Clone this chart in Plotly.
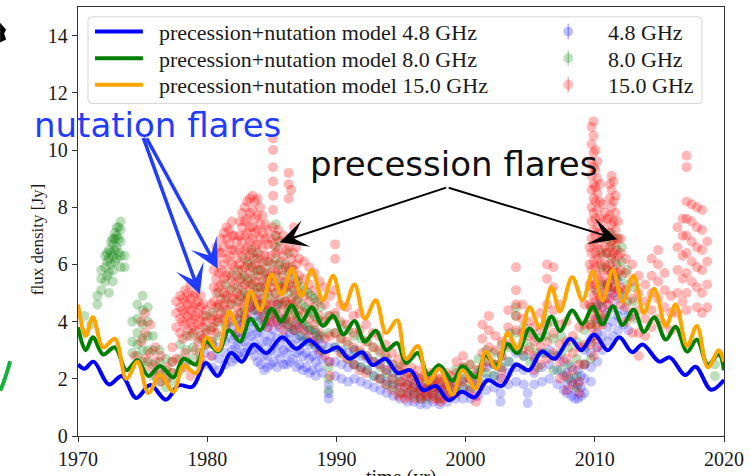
import plotly.graph_objects as go

# ---------------------------------------------------------------------------
# Precession + nutation model curves, given as their turning points (year, Jy)
# ---------------------------------------------------------------------------
model_year_15 = [1970.0, 1970.6, 1971.15, 1971.95, 1972.85, 1973.75, 1974.6, 1975.45,
                 1976.35, 1977.4, 1978.15, 1979.15, 1979.95, 1980.85, 1981.7, 1982.55,
                 1983.35, 1984.1, 1985.0, 1985.75, 1986.55, 1987.3, 1988.1, 1988.95,
                 1989.75, 1990.55, 1991.4, 1992.2, 1993.05, 1993.85, 1994.7, 1995.4,
                 1996.3, 1997.1, 1997.95, 1999.0, 1999.75, 2000.8, 2001.55, 2002.4,
                 2003.25, 2004.0, 2004.95, 2005.75, 2006.65, 2007.3, 2008.25, 2009.05,
                 2009.85, 2010.6, 2011.4, 2012.15, 2013.0, 2013.8, 2014.6, 2015.5,
                 2016.25, 2017.15, 2017.9, 2018.75, 2019.6, 2020.0]
model_flux_15 = [4.6, 3.5, 4.15, 3.1, 3.4, 2.0, 2.6, 1.5,
                 2.15, 1.55, 2.45, 2.2, 3.45, 3.0, 4.35, 3.65,
                 5.05, 4.4, 5.65, 4.95, 5.85, 4.9, 5.8, 4.75,
                 5.6, 4.45, 5.3, 4.1, 4.75, 3.6, 4.05, 2.7,
                 3.15, 1.85, 2.35, 1.45, 2.3, 1.65, 2.95, 2.35,
                 3.6, 3.05, 4.5, 3.8, 5.2, 4.35, 5.55, 4.75,
                 5.75, 4.75, 5.8, 4.7, 5.6, 4.3, 5.15, 3.85,
                 4.6, 3.15, 3.85, 2.4, 3.0, 2.6]

model_year_8 = model_year_15
model_flux_8 = [3.8, 3.0, 3.45, 2.85, 3.1, 2.3, 2.65, 2.1,
                2.45, 2.05, 2.7, 2.5, 3.3, 2.95, 3.7, 3.3,
                4.1, 3.7, 4.45, 4.0, 4.57, 4.0, 4.5, 3.85,
                4.2, 3.55, 4.02, 3.3, 3.68, 3.0, 3.25, 2.55,
                2.9, 2.15, 2.47, 1.93, 2.44, 2.05, 2.83, 2.47,
                3.22, 2.89, 3.76, 3.34, 4.18, 3.67, 4.39, 3.91,
                4.51, 3.91, 4.54, 3.88, 4.42, 3.64, 4.15, 3.37,
                3.82, 2.95, 3.37, 2.5, 2.86, 2.3]

model_year_48 = [1970.0, 1970.5, 1971.2, 1972.4, 1973.4, 1974.5, 1975.6, 1976.8,
                 1977.8, 1978.85, 1979.9, 1980.8, 1981.85, 1982.7, 1983.6, 1984.6,
                 1985.8, 1986.9, 1987.9, 1989.1, 1990.1, 1991.0, 1992.0, 1992.8,
                 1993.8, 1994.75, 1995.75, 1996.7, 1997.7, 1998.7, 1999.7, 2000.7,
                 2001.7, 2002.8, 2003.9, 2004.9, 2005.9, 2006.9, 2008.1, 2008.95,
                 2009.95, 2011.0, 2011.9, 2012.9, 2013.7, 2015.0, 2015.8, 2017.0,
                 2017.8, 2019.0, 2020.0]
model_flux_48 = [2.5, 2.35, 2.6, 1.8, 2.1, 1.33, 1.78, 1.27,
                 1.77, 1.72, 2.55, 2.1, 2.9, 2.6, 3.2, 2.9,
                 3.45, 3.05, 3.35, 2.93, 3.1, 2.7, 2.93, 2.48,
                 2.7, 2.2, 2.3, 1.6, 1.75, 1.25, 1.55, 1.35,
                 1.95, 1.75, 2.5, 2.3, 2.95, 2.7, 3.4, 3.0,
                 3.55, 3.0, 3.45, 2.93, 3.2, 2.6, 2.75, 2.13,
                 2.42, 1.62, 1.96]

# ---------------------------------------------------------------------------
# Single-dish light curves: epochs and the flux densities measured around them
# ---------------------------------------------------------------------------
obs_epoch_15 = [1974.4, 1974.9, 1975.2, 1975.6, 1976.0, 1976.4, 1976.9, 1977.3, 1977.6,
                1977.9, 1978.3, 1978.7, 1979.1, 1979.5, 1979.9, 1980.3, 1980.7, 1981.1,
                1981.5, 1981.9, 1982.3, 1982.7, 1983.1, 1983.5, 1983.9, 1984.3, 1984.7,
                1985.1, 1985.5, 1985.9, 1986.3, 1986.7, 1987.1, 1987.5, 1987.9, 1988.3,
                1988.7, 1989.1, 1989.5, 1989.9, 1990.3, 1990.8, 1991.3, 1991.8, 1992.3,
                1992.8, 1993.3, 1993.8, 1994.3, 1994.8, 1995.3, 1995.8, 1996.3, 1996.8,
                1997.3, 1997.8, 1998.3, 1998.8, 1999.3, 1999.8, 2000.3, 2000.8, 2001.3,
                2001.8, 2002.3, 2002.8, 2003.3, 2003.9, 2004.4, 2004.9, 2005.3, 2005.8,
                2006.3, 2006.8, 2007.3, 2007.8, 2008.3, 2008.8, 2009.2, 2009.6, 2009.9,
                2010.2, 2010.6, 2011.0, 2011.3, 2011.6, 2012.0, 2012.4, 2012.9, 2013.4,
                2013.9, 2014.4, 2014.9, 2015.4, 2015.9, 2016.4, 2016.8, 2017.1, 2017.5,
                2017.9, 2018.3, 2018.7,
                1978.1, 1978.5, 1978.9, 1979.3, 1979.7,
                1980.5, 1980.9, 1981.3, 1981.7, 1982.1, 1982.5, 1982.9, 1983.3, 1983.7,
                1984.1, 1984.5, 1984.9, 1985.3, 1985.7, 1986.1, 1986.5, 1986.9,
                1995.05, 1995.55, 1996.05, 1996.55, 1997.05, 1997.55, 1998.05, 1998.55,
                2009.75, 2010.05, 2010.4, 2010.8, 2011.15, 2011.45, 2011.8]
obs_flux_15 = [[2.8], [3.3, 4.0], [4.3, 3.6, 2.7], [3.9, 2.9, 2.4], [2.6, 2.1, 3.1],
               [2.3, 1.9, 2.8], [2.0, 2.4], [2.2, 2.6, 3.1], [4.7, 4.3, 3.8, 2.7],
               [4.9, 4.5, 4.1, 3.6], [5.1, 4.7, 4.3, 3.9, 2.9, 2.4],
               [5.3, 4.8, 4.4, 4.0, 3.5, 2.1], [5.0, 4.6, 4.2, 3.7, 3.0],
               [4.9, 4.5, 4.0, 3.5, 2.7], [4.4, 4.0, 3.6, 3.2], [4.6, 4.1, 3.7, 3.3, 2.8],
               [6.6, 6.1, 5.5, 5.0, 4.5, 4.0, 3.6], [6.9, 6.4, 5.8, 5.3, 4.8, 4.3],
               [7.3, 6.9, 6.2, 5.6, 4.9, 4.4, 3.9], [7.5, 7.0, 6.5, 6.0, 5.4, 4.8, 4.1],
               [6.8, 6.2, 5.6, 5.0, 4.5, 3.6], [7.8, 7.3, 6.8, 6.3, 5.8, 5.2, 4.6, 3.9],
               [8.2, 7.6, 7.1, 6.6, 6.1, 5.5, 4.9, 4.3], [8.4, 7.9, 7.3, 6.9, 6.4, 5.9, 5.3, 4.6],
               [8.3, 7.7, 7.2, 6.7, 6.2, 5.6, 5.0, 4.4], [7.7, 7.1, 6.6, 6.0, 5.4, 4.8, 4.2],
               [7.2, 6.7, 6.1, 5.5, 5.0, 4.4, 3.8],
               [10.4, 10.0, 9.4, 8.9, 8.4, 7.9, 7.3, 6.7, 6.0, 5.4, 4.7, 4.0],
               [7.2, 6.5, 5.8, 5.2, 4.6, 3.9], [7.0, 6.3, 5.6, 5.1, 4.4, 3.7],
               [9.2, 8.8, 8.3, 6.6, 5.9, 5.3, 4.6, 3.9], [7.3, 6.4, 5.8, 5.1, 4.5, 3.7],
               [6.2, 5.6, 5.0, 4.4, 3.8], [6.1, 5.5, 4.9, 4.3, 3.7], [5.9, 5.3, 4.7, 4.1, 3.5],
               [5.7, 5.1, 4.5, 3.9, 3.3], [5.4, 4.8, 4.2, 3.6, 3.0], [5.2, 4.6, 4.0, 3.4, 2.8],
               [4.9, 4.2, 3.5, 2.6, 2.1], [6.7, 6.2, 5.1, 4.3, 3.6], [4.6, 4.0, 3.4, 2.9],
               [4.5, 3.9, 3.3, 2.7], [4.2, 3.6, 3.1, 2.5], [4.3, 3.7, 3.0, 2.3],
               [3.9, 3.3, 2.8, 2.2], [3.6, 3.1, 2.6], [3.5, 3.0, 2.5, 2.0], [3.2, 2.8, 2.3, 1.8],
               [2.9, 2.5, 2.0, 1.6], [2.7, 2.3, 1.8, 1.4], [2.6, 2.1, 1.7, 1.3], [2.4, 2.0, 1.6],
               [2.3, 1.9, 1.5], [2.1, 1.7, 1.4], [2.2, 1.8, 1.5], [2.0, 1.7, 1.3], [1.9, 1.6, 1.3],
               [2.1, 1.7, 1.4], [2.6, 2.2, 1.8, 1.5], [2.8, 2.4, 1.9], [2.5, 2.0, 1.6],
               [2.3, 1.8, 1.4, 1.2], [3.9, 3.4, 2.9, 2.4], [4.2, 3.7, 3.1, 2.6], [3.5, 3.0, 2.5],
               [3.3, 2.8, 2.3, 2.0], [4.4, 3.8, 3.2], [5.9, 5.1, 4.6, 4.2, 3.7],
               [4.6, 4.1, 3.6, 3.0], [4.0, 3.5, 3.0], [3.8, 3.3, 2.8, 2.3], [4.3, 3.7, 3.1, 2.5],
               [6.0, 5.5, 4.6, 3.9, 3.3, 2.7], [5.9, 5.2, 4.4, 3.6, 2.9],
               [4.6, 3.9, 3.2, 2.6, 2.0], [4.0, 3.3, 2.7, 2.1, 1.6], [3.5, 2.9, 2.3, 1.8],
               [3.8, 3.1, 2.5, 1.9, 1.5], [4.6, 3.9, 3.2, 2.5], [6.6, 6.0, 5.3, 4.6, 3.9, 3.2],
               [11.0, 10.5, 9.9, 9.4, 8.8, 8.3, 7.8, 7.2, 6.7, 6.1, 5.5, 4.9, 4.2, 3.5, 2.8],
               [9.6, 9.0, 8.5, 7.9, 7.3, 6.7, 6.2, 5.6, 5.0, 4.4, 3.8, 3.1],
               [8.1, 7.5, 6.9, 6.3, 5.7, 5.1, 4.5, 3.9], [7.6, 7.0, 6.4, 5.8, 5.2, 4.6],
               [9.1, 8.6, 8.0, 7.4, 6.8, 6.3, 5.7, 5.1], [8.4, 7.8, 7.2, 6.6, 6.1, 5.5, 4.9],
               [6.9, 6.4, 5.8, 5.2, 4.6], [6.2, 5.7, 5.1, 4.5, 4.0], [6.0, 5.4, 4.8, 4.2, 3.6],
               [5.6, 5.0, 4.4, 3.6, 2.8], [5.3, 4.7, 4.1, 3.5], [6.2, 5.6, 5.0, 4.4, 3.8],
               [6.5, 6.0, 5.4, 4.8, 4.1], [5.7, 5.1, 4.5, 3.9], [4.9, 4.3, 3.7],
               [7.3, 6.6, 5.8, 5.0, 4.3], [7.6, 7.0, 6.3, 5.5, 4.7],
               [9.8, 9.4, 8.2, 7.6, 7.0, 6.4, 5.7, 5.0, 4.4], [8.1, 7.5, 6.8, 6.1, 5.4],
               [8.0, 7.3, 6.6, 5.9, 5.2, 4.5], [7.9, 7.2, 6.5, 5.8, 5.0, 4.3], [6.8, 6.1, 5.3, 4.5],
               [4.8, 4.4, 4.0, 3.4], [5.0, 4.6, 4.2, 3.7], [4.9, 4.5, 4.1, 3.8],
               [4.7, 4.3, 3.9, 3.3], [4.6, 4.2, 3.8, 3.4],
               [5.8, 5.2, 4.7, 4.2, 3.8], [6.4, 5.7, 5.2, 4.6, 4.1],
               [7.1, 6.6, 6.0, 5.5, 5.0, 4.6, 4.1], [7.2, 6.7, 6.3, 5.7, 5.1, 4.6],
               [7.0, 6.5, 5.9, 5.3, 4.8, 4.2], [7.5, 7.0, 6.5, 6.0, 5.5, 4.9, 4.3],
               [8.0, 7.5, 7.0, 6.5, 5.9, 5.3, 4.7, 4.1], [8.3, 7.8, 7.3, 6.8, 6.3, 5.7, 5.1, 4.5],
               [8.2, 7.6, 7.1, 6.6, 6.0, 5.4, 4.8], [8.0, 7.4, 6.9, 6.3, 5.8, 5.2, 4.6],
               [7.4, 6.9, 6.3, 5.7, 5.2, 4.6, 4.0], [6.9, 6.3, 5.7, 5.2, 4.6, 4.1],
               [7.0, 6.4, 5.7, 5.0, 4.3], [6.8, 6.1, 5.4, 4.8, 4.1], [6.5, 5.9, 5.2, 4.7, 4.1],
               [8.6, 6.9, 6.2, 5.5, 4.8, 4.2], [6.6, 6.0, 5.3, 4.7, 4.0],
               [2.4, 1.9, 1.5], [2.2, 1.8, 1.4], [2.1, 1.7, 1.3], [2.0, 1.6, 1.3],
               [2.1, 1.7, 1.4], [1.9, 1.6, 1.3], [2.0, 1.6, 1.2], [2.2, 1.8, 1.4],
               [10.8, 10.2, 9.6, 9.1, 8.6, 8.0, 7.5, 6.9, 6.4, 5.8, 5.2, 4.5, 3.8],
               [10.0, 9.3, 8.7, 8.2, 7.6, 7.0, 6.4, 5.9, 5.3, 4.7, 4.1, 3.4],
               [8.8, 8.2, 7.6, 7.1, 6.5, 6.0, 5.4, 4.8, 4.2],
               [7.8, 7.2, 6.6, 6.0, 5.4, 4.8, 4.2],
               [8.8, 8.3, 7.7, 7.1, 6.6, 6.0, 5.4, 4.8],
               [8.9, 8.2, 7.5, 6.9, 6.4, 5.8, 5.2], [7.5, 6.9, 6.3, 5.7, 5.1]]

obs_epoch_8 = [1970.5, 1971.0, 1971.5, 1971.8, 1972.1, 1972.4, 1972.7, 1973.0, 1973.3,
               1973.6, 1974.2, 1974.6, 1975.0, 1975.4, 1975.8, 1976.3, 1976.8, 1977.3,
               1977.9, 1978.4, 1978.9, 1979.4, 1979.9, 1980.4, 1980.9, 1981.4, 1981.9,
               1982.4, 1982.9, 1983.4, 1983.9, 1984.4, 1984.9, 1985.3, 1985.8, 1986.3,
               1986.8, 1987.3, 1987.8, 1988.3, 1988.8, 1989.4, 1989.9, 1990.4, 1990.9,
               1991.4, 1991.9, 1992.4, 1992.9, 1993.4, 1993.9, 1994.4, 1994.9, 1995.5,
               1996.0, 1996.5, 1997.0, 1997.5, 1998.0, 1998.6, 1999.2, 1999.8, 2000.4,
               2001.0, 2001.6, 2002.2, 2002.8, 2003.4, 2003.9, 2004.5, 2005.0, 2005.6,
               2006.2, 2006.8, 2007.4, 2008.0, 2008.6, 2009.2, 2009.7, 2010.1, 2010.5,
               2010.9, 2011.3, 2011.7, 2012.1, 2012.5, 2013.0, 2019.3,
               1972.25, 1972.55, 1972.85, 1973.15,
               1982.65, 1983.15, 1983.65, 1984.15, 1984.65, 1985.55, 1986.05, 1986.55,
               1987.05, 1987.55, 1988.05, 1988.55]
obs_flux_8 = [[4.2, 3.6], [3.9], [4.6, 4.9], [5.1, 5.5, 5.8], [5.4, 5.9, 6.3],
              [5.7, 6.2, 6.5, 5.0], [5.8, 6.3, 6.7, 6.9, 5.4], [6.2, 6.6, 7.0, 7.3],
              [6.3, 6.8, 7.2, 7.5, 5.9], [5.9, 6.3], [3.3, 2.9, 4.0], [4.6, 4.1, 3.6, 3.2, 2.8],
              [4.9, 4.4, 3.9, 3.4, 3.0, 2.6], [4.5, 4.0, 3.5, 3.0, 2.6], [3.5, 3.0, 2.5, 2.1],
              [3.0, 2.6, 2.2, 1.9], [2.7, 2.3, 2.0, 1.7], [2.6, 2.2, 1.9], [3.2, 2.7, 2.3],
              [3.5, 3.0, 2.6], [3.6, 3.1, 2.7], [3.4, 2.9, 2.5], [4.2, 3.7, 3.2], [4.3, 3.8, 3.3],
              [5.0, 4.5, 4.0, 3.5], [5.3, 4.8, 4.3, 3.8], [5.6, 5.1, 4.6, 4.0],
              [5.8, 5.2, 4.7, 4.1], [6.2, 5.6, 5.0, 4.4], [6.5, 5.9, 5.3, 4.7],
              [6.4, 5.8, 5.2, 4.6, 4.0], [6.1, 5.5, 4.9, 4.3], [6.0, 5.4, 4.8, 4.2],
              [7.4, 7.0, 6.6, 6.2, 5.6, 5.0, 4.4], [5.8, 5.2, 4.6, 4.0], [6.4, 5.7, 5.0, 4.4, 3.8],
              [5.5, 4.9, 4.3, 3.7], [5.2, 4.6, 4.0, 3.5], [5.0, 4.4, 3.8, 3.3], [4.8, 4.2, 3.7, 3.2],
              [4.5, 4.0, 3.5, 3.0], [4.2, 3.6, 2.4, 2.0, 1.6], [4.2, 3.6, 3.1], [3.9, 3.4, 2.9],
              [3.7, 3.2, 2.7], [3.5, 3.0, 2.5], [3.4, 2.9, 2.4], [3.3, 2.8, 2.3], [3.1, 2.6, 2.1],
              [2.9, 2.4, 2.0], [2.7, 2.2, 1.8], [2.5, 2.0, 1.7], [2.4, 1.9, 1.5], [2.2, 1.8, 1.5],
              [2.1, 1.7, 1.4], [2.0, 1.6, 1.3], [1.9, 1.6, 1.3], [2.0, 1.7, 1.4], [1.9, 1.6, 1.3],
              [2.0, 1.7, 1.4], [2.3, 1.9, 1.6], [2.4, 2.0, 1.7], [2.5, 2.1, 1.7], [2.7, 2.3, 1.9],
              [3.0, 2.6, 2.2], [2.9, 2.5, 2.1], [3.2, 2.8, 2.4], [3.6, 3.1, 2.6],
              [4.5, 4.2, 3.6, 3.1], [3.8, 3.3, 2.8], [3.6, 3.1, 2.6], [3.4, 2.9, 2.4],
              [4.1, 3.5, 2.9], [4.0, 3.4, 2.8, 2.3], [3.5, 2.9, 2.3], [3.1, 2.5, 2.0],
              [3.3, 2.7, 2.1, 1.7], [3.7, 3.1, 2.5], [4.5, 3.9, 3.3, 2.7], [5.1, 4.5, 3.9],
              [6.4, 5.9, 5.3, 4.7, 4.1], [6.9, 6.4, 5.9, 5.3], [7.1, 6.7, 6.2, 5.7, 5.2],
              [6.9, 6.5, 6.0, 5.5], [6.6, 6.1, 5.6, 5.0], [5.8, 5.3, 4.7], [5.2, 4.7, 4.1],
              [2.5, 2.1],
              [5.6, 6.1, 6.4], [6.0, 6.4, 6.8], [6.1, 6.5, 6.9, 7.1], [6.4, 6.9, 7.3],
              [5.5, 4.9, 4.3], [6.0, 5.4, 4.8], [6.2, 5.6, 5.0, 4.4], [5.8, 5.2, 4.6],
              [5.7, 5.1, 4.5], [6.8, 6.0, 5.3, 4.7], [6.0, 5.4, 4.7, 4.1], [5.9, 5.2, 4.6, 4.0],
              [5.4, 4.8, 4.2], [5.1, 4.5, 3.9], [4.9, 4.3, 3.7], [4.7, 4.1, 3.5]]

obs_epoch_48 = [1979.8, 1980.4, 1980.9, 1981.4, 1981.9, 1982.4, 1982.9, 1983.4, 1983.9,
                1984.4, 1984.9, 1985.4, 1985.9, 1986.4, 1986.9, 1987.4, 1987.9, 1988.4,
                1988.9, 1989.4, 1989.9, 1990.4, 1990.9, 1991.4, 1991.9, 1992.4, 1992.9,
                1993.4, 1993.9, 1994.4, 1994.9, 1995.5, 1996.0, 1996.5, 1997.0, 1997.5,
                1998.0, 1998.6, 1999.2, 1999.8, 2000.4, 2001.0, 2001.6, 2002.2, 2002.7,
                2003.3, 2003.9, 2004.5, 2004.8, 2005.3, 2005.9, 2006.5, 2007.1, 2007.6,
                2008.2, 2008.7, 2009.2, 2009.7, 2010.2, 2010.6, 2011.0, 2011.4, 2011.8,
                2012.2, 2012.6,
                1982.15, 1982.65, 1983.15, 1983.65, 1984.15, 1984.65, 1985.15, 1985.65,
                1986.15, 1986.65, 1987.15, 1987.65, 1988.15, 1988.65,
                2007.85, 2008.45, 2008.95]
obs_flux_48 = [[2.5, 2.9], [2.4, 2.8, 3.2], [2.3, 2.7, 3.1], [2.5, 2.9, 3.3],
               [2.6, 3.0, 3.4, 3.8], [2.8, 3.2, 3.6, 4.0], [2.9, 3.3, 3.8, 4.2],
               [3.0, 3.5, 4.0, 4.5], [2.6, 3.1, 3.6, 4.2, 4.7], [2.3, 2.8, 3.3, 3.9, 4.4],
               [2.5, 3.0, 3.5, 4.0], [2.4, 2.9, 3.4, 4.0, 4.6], [2.5, 3.0, 3.5, 4.1],
               [2.6, 3.1, 3.6], [2.4, 2.9, 3.4, 3.9], [2.3, 2.8, 3.3, 3.8], [2.2, 2.7, 3.2, 3.7],
               [2.1, 2.6, 3.1, 3.6], [2.2, 2.7, 3.2], [1.3, 1.5, 1.8, 2.6, 3.1], [2.1, 2.6, 3.1],
               [2.0, 2.5, 3.0], [1.9, 2.4, 2.9], [2.0, 2.5, 3.0], [1.9, 2.4, 2.8],
               [1.8, 2.3, 2.7], [1.7, 2.1, 2.6], [1.6, 2.0, 2.5], [1.5, 1.9, 2.3],
               [1.4, 1.8, 2.2], [1.3, 1.7, 2.1], [1.2, 1.5, 1.9], [1.2, 1.5, 1.8],
               [1.1, 1.4, 1.7], [1.1, 1.4, 1.7], [1.2, 1.5, 1.8], [1.1, 1.4, 1.7],
               [1.2, 1.5, 1.8], [1.3, 1.6, 1.9], [1.3, 1.7, 2.0], [1.3, 1.6, 2.0],
               [1.4, 1.8, 2.2], [1.6, 2.0, 2.4], [1.7, 2.1, 2.5], [1.2, 1.5, 2.0, 2.4],
               [1.8, 2.2, 2.6], [1.9, 2.4, 2.9], [1.8, 2.3, 2.8], [1.15, 1.5], [1.8, 2.2, 2.7],
               [1.9, 2.4, 2.9], [2.0, 2.5, 3.0], [1.8, 2.3, 2.8], [1.6, 2.1, 2.6],
               [1.4, 1.9, 2.4], [1.3, 1.8, 2.3], [1.5, 2.0, 2.5, 3.0], [1.9, 2.4, 2.9, 3.4],
               [2.6, 3.1, 3.6, 4.1, 4.6], [3.0, 3.5, 4.0, 4.5, 5.0], [3.3, 3.8, 4.3, 4.8, 5.3],
               [3.5, 4.0, 4.5, 5.0, 5.6], [3.7, 4.2, 4.8, 5.4], [3.9, 4.4, 4.9], [3.7, 4.2],
               [2.7, 3.1, 3.5], [2.9, 3.4, 3.9], [3.1, 3.6, 4.1], [2.8, 3.3, 3.8, 4.4],
               [2.5, 3.0, 3.6, 4.1], [2.4, 2.8, 3.3, 3.8], [2.6, 3.2, 3.7, 4.3],
               [2.7, 3.2, 3.8], [2.5, 2.9, 3.4, 3.9], [2.7, 3.2, 3.7], [2.5, 3.0, 3.5],
               [2.4, 2.9, 3.4], [2.3, 2.8, 3.3], [2.4, 2.9, 3.4],
               [1.5, 1.8, 2.2], [1.3, 1.6, 2.0], [1.4, 1.7, 2.1]]

band_labels = ["4.8 GHz", "8.0 GHz", "15.0 GHz"]
model_labels = ["precession+nutation model " + b for b in band_labels]

# ---------------------------------------------------------------------------
# Figure geometry (pixels) and helpers for placing decorations in paper units
# ---------------------------------------------------------------------------
W, H = 750, 476
ML, MR, MT, MB = 78, 25, 6, 34
PW, PH = W - ML - MR, H - MT - MB


def px(xp):
    return (xp - ML) / PW


def py(yp):
    return (H - MB - yp) / PH


def flatten(epochs, fluxes):
    xs, ys = [], []
    for t, col in zip(epochs, fluxes):
        for f in col:
            xs.append(t)
            ys.append(f)
    return xs, ys


SERIF = "Liberation Serif, DejaVu Serif, serif"
SANS = "DejaVu Sans, sans-serif"

point_rgb = ["0,0,255", "0,128,0", "255,0,0"]
point_alpha = [0.22, 0.26, 0.28]
line_colors = ["#0000ff", "#008000", "#ffa500"]

fig = go.Figure()

for (ep, fl), rgb, a, name in zip(
        [(obs_epoch_48, obs_flux_48), (obs_epoch_8, obs_flux_8), (obs_epoch_15, obs_flux_15)],
        point_rgb, point_alpha, band_labels):
    xs, ys = flatten(ep, fl)
    fig.add_trace(go.Scatter(x=xs, y=ys, mode="markers", name=name, showlegend=False,
                             marker=dict(size=10, color=f"rgba({rgb},{a})", line=dict(width=0))))

for (mx, my), col, name in zip(
        [(model_year_48, model_flux_48), (model_year_8, model_flux_8),
         (model_year_15, model_flux_15)],
        line_colors, model_labels):
    fig.add_trace(go.Scatter(x=mx, y=my, mode="lines", name=name, showlegend=False,
                             line=dict(color=col, width=4, shape="spline", smoothing=1.0)))

shapes = []
annotations = []

# legend box
x0, y0, x1, y1, r = 88, 16, 703, 104, 4
path = (f"M{px(x0 + r)},{py(y0)} L{px(x1 - r)},{py(y0)} Q{px(x1)},{py(y0)} {px(x1)},{py(y0 + r)} "
        f"L{px(x1)},{py(y1 - r)} Q{px(x1)},{py(y1)} {px(x1 - r)},{py(y1)} "
        f"L{px(x0 + r)},{py(y1)} Q{px(x0)},{py(y1)} {px(x0)},{py(y1 - r)} "
        f"L{px(x0)},{py(y0 + r)} Q{px(x0)},{py(y0)} {px(x0 + r)},{py(y0)} Z")
shapes.append(dict(type="path", xref="paper", yref="paper", path=path,
                   fillcolor="rgba(255,255,255,0.85)", line=dict(color="#d6d6d6", width=1)))

rows = [31, 58, 85]
for yrow, lc, rgb, mlab, blab in zip(rows, line_colors, point_rgb, model_labels, band_labels):
    shapes.append(dict(type="line", xref="paper", yref="paper",
                       x0=px(95), x1=px(143), y0=py(yrow), y1=py(yrow),
                       line=dict(color=lc, width=4)))
    annotations.append(dict(xref="paper", yref="paper", x=px(157), y=py(yrow + 1),
                            xanchor="left", yanchor="middle", showarrow=False, text=mlab,
                            font=dict(family=SERIF, size=22, color="#1a1a1a")))
    shapes.append(dict(type="line", xref="paper", yref="paper",
                       x0=px(569), x1=px(569), y0=py(yrow - 8), y1=py(yrow + 8),
                       line=dict(color=f"rgba({rgb},0.3)", width=1.5)))
    shapes.append(dict(type="circle", xref="paper", yref="paper",
                       x0=px(564), x1=px(574), y0=py(yrow - 5), y1=py(yrow + 5),
                       fillcolor=f"rgba({rgb},0.25)", line=dict(width=0)))
    annotations.append(dict(xref="paper", yref="paper", x=px(607), y=py(yrow + 1),
                            xanchor="left", yanchor="middle", showarrow=False, text=blab,
                            font=dict(family=SERIF, size=22, color="#1a1a1a")))

# flare labels and arrows
annotations.append(dict(xref="paper", yref="paper", x=px(32), y=py(126), xanchor="left",
                        yanchor="middle", showarrow=False, text="nutation flares",
                        font=dict(family=SANS, size=34, color="#1f3cff")))
annotations.append(dict(xref="paper", yref="paper", x=px(308), y=py(166), xanchor="left",
                        yanchor="middle", showarrow=False, text="precession flares",
                        font=dict(family=SANS, size=34, color="#111111")))

for tip, tail in [((200, 298), (143, 140)), ((218, 272), (146, 140))]:
    annotations.append(dict(xref="paper", yref="paper", x=px(tip[0]), y=py(tip[1]),
                            ax=tail[0] - tip[0], ay=tail[1] - tip[1], showarrow=True,
                            arrowhead=3, arrowsize=1.4, arrowwidth=3.5, arrowcolor="#1f3cff",
                            text=""))
for tip in [(280, 245), (618, 242)]:
    annotations.append(dict(xref="paper", yref="paper", x=px(tip[0]), y=py(tip[1]),
                            ax=448 - tip[0], ay=190 - tip[1], showarrow=True,
                            arrowhead=3, arrowsize=2.3, arrowwidth=2, arrowcolor="#000000",
                            text=""))

# axis titles (the x title sits at the lower edge of the canvas)
annotations.append(dict(xref="paper", yref="paper", x=px(37), y=py(243), textangle=-90,
                        xanchor="center", yanchor="middle",
                        showarrow=False, text="flux density [Jy]",
                        font=dict(family=SERIF, size=17, color="#1a1a1a")))
annotations.append(dict(xref="paper", yref="paper", x=0.5, y=py(470), yanchor="top",
                        xanchor="center",
                        showarrow=False, text="time (yr)",
                        font=dict(family=SERIF, size=20, color="#1a1a1a")))

# fragments of neighbouring panels at the left border
shapes.append(dict(type="path", xref="paper", yref="paper",
                   path=f"M{px(0)},{py(22)} L{px(6)},{py(29)} L{px(4)},{py(33)} L{px(6)},{py(39)} "
                        f"L{px(0)},{py(42)} Z",
                   fillcolor="black", line=dict(width=0)))
shapes.append(dict(type="path", xref="paper", yref="paper",
                   path=f"M{px(0)},{py(396)} Q{px(5)},{py(385)} {px(10)},{py(366)}",
                   line=dict(color="rgb(25,175,60)", width=4)))

axis_common = dict(showline=True, mirror=True, linecolor="#333333", linewidth=1.3,
                   ticks="outside", ticklen=5, tickwidth=1.3, tickcolor="#333333",
                   showgrid=False, zeroline=False,
                   tickfont=dict(family=SERIF, size=20, color="#1a1a1a"))

fig.update_layout(
    width=W, height=H,
    margin=dict(l=ML, r=MR, t=MT, b=MB),
    paper_bgcolor="white", plot_bgcolor="white",
    xaxis=dict(range=[1970, 2020], tick0=1970, dtick=10, **axis_common),
    yaxis=dict(range=[0, 15], tick0=0, dtick=2, **axis_common),
    shapes=shapes, annotations=annotations, showlegend=False,
)

fig.write_html("out.html")
